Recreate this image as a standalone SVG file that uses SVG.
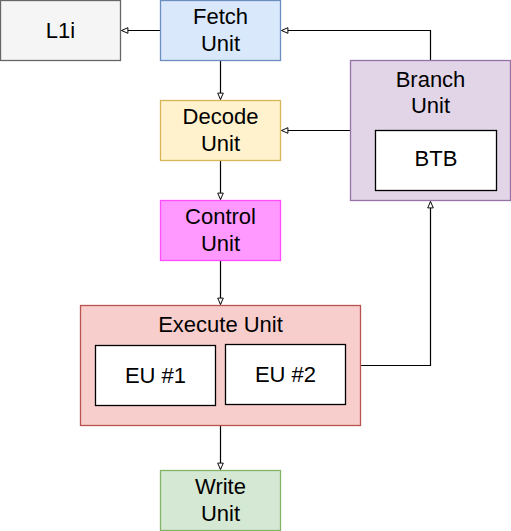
<svg xmlns="http://www.w3.org/2000/svg" width="511" height="531" viewBox="0 0 511 531">
<style>
text{font-family:"Liberation Sans",Arial,sans-serif;font-size:22px;fill:#000;text-anchor:middle}
.c{fill:none;stroke:#000;stroke-width:1.2}
rect{stroke-width:1.3}
</style>
<defs>
<marker id="ah" viewBox="0 0 10 10" refX="9" refY="5" markerWidth="8" markerHeight="8" orient="auto" markerUnits="userSpaceOnUse">
<path d="M1,1.5 L9,5 L1,8.5 Z" fill="#fff" stroke="#000" stroke-width="1.2"/>
</marker>
</defs>
<rect width="511" height="531" fill="#fff" stroke="none"/>
<g id="connectors">
<path class="c" d="M160.5,30.5 L121.5,30.5" marker-end="url(#ah)"/>
<path class="c" d="M220.5,60.5 L220.5,99.5" marker-end="url(#ah)"/>
<path class="c" d="M220.5,160.5 L220.5,199.5" marker-end="url(#ah)"/>
<path class="c" d="M220.5,260.5 L220.5,304.5" marker-end="url(#ah)"/>
<path class="c" d="M220.5,425.5 L220.5,469.5" marker-end="url(#ah)"/>
<path class="c" d="M360.5,365.5 L430.5,365.5 L430.5,201.5" marker-end="url(#ah)"/>
<path class="c" d="M430.5,60.5 L430.5,30.5 L281.5,30.5" marker-end="url(#ah)"/>
<path class="c" d="M350.5,130.5 L281.5,130.5" marker-end="url(#ah)"/>
</g>
<g id="l1i">
<rect x="0.5" y="0.5" width="120" height="60" fill="#f5f5f5" stroke="#666"/>
<text x="60.5" y="38">L1i</text>
</g>
<g id="fetch">
<rect x="160.5" y="0.5" width="120" height="60" fill="#dae8fc" stroke="#6c8ebf"/>
<text x="220.5" y="24">Fetch</text>
<text x="220.5" y="50.5">Unit</text>
</g>
<g id="decode">
<rect x="160.5" y="100.5" width="120" height="60" fill="#fff2cc" stroke="#d6b656"/>
<text x="220.5" y="124">Decode</text>
<text x="220.5" y="150.5">Unit</text>
</g>
<g id="control">
<rect x="160.5" y="200.5" width="120" height="60" fill="#ff99ff" stroke="#ff4dff"/>
<text x="220.5" y="224">Control</text>
<text x="220.5" y="250.5">Unit</text>
</g>
<g id="execute">
<rect x="80.5" y="305.5" width="280" height="120" fill="#f8cecc" stroke="#b85450"/>
<text x="220.5" y="332">Execute Unit</text>
</g>
<g id="eu1">
<rect x="95.5" y="345.5" width="120" height="60" fill="#fff" stroke="#000"/>
<text x="155.5" y="383">EU #1</text>
</g>
<g id="eu2">
<rect x="225.5" y="344.5" width="120" height="60" fill="#fff" stroke="#000"/>
<text x="285.5" y="382">EU #2</text>
</g>
<g id="write">
<rect x="160.5" y="470.5" width="120" height="60" fill="#d5e8d4" stroke="#82b366"/>
<text x="220.5" y="494">Write</text>
<text x="220.5" y="520.5">Unit</text>
</g>
<g id="branch">
<rect x="350.5" y="60.5" width="160" height="140" fill="#e1d5e7" stroke="#9673a6"/>
<text x="430.5" y="87">Branch</text>
<text x="430.5" y="113">Unit</text>
</g>
<g id="btb">
<rect x="375.5" y="130.5" width="121" height="60" fill="#fff" stroke="#000"/>
<text x="436" y="166">BTB</text>
</g>
</svg>
